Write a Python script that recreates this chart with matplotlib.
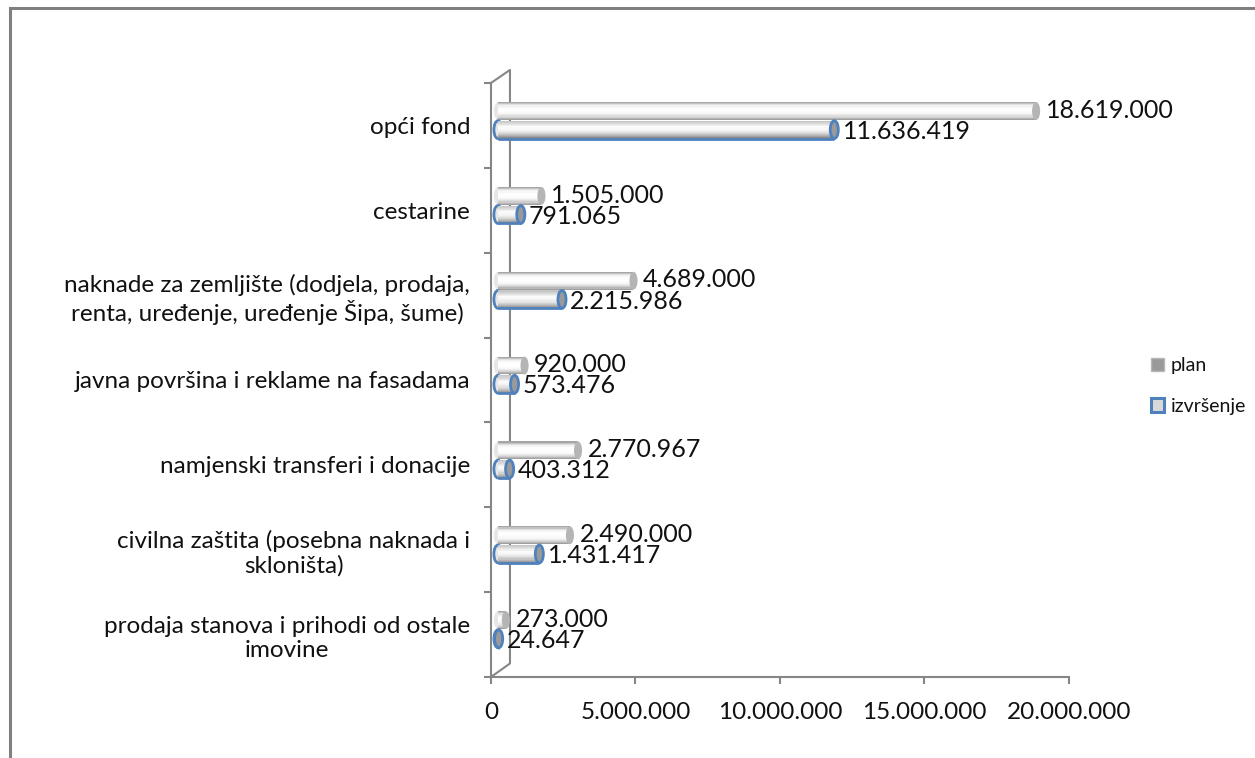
import matplotlib.pyplot as plt
import numpy as np
from matplotlib.colors import LinearSegmentedColormap
from matplotlib.patches import Rectangle, Ellipse, Patch
from matplotlib.transforms import ScaledTranslation

plt.rcParams['font.family'] = ['Lato', 'DejaVu Sans']

# categories top to bottom, as in the chart
categories = [
    "opći fond",
    "cestarine",
    "naknade za zemljište (dodjela, prodaja,\nrenta, uređenje, uređenje Šipa, šume)",
    "javna površina i reklame na fasadama",
    "namjenski transferi i donacije",
    "civilna zaštita (posebna naknada i\nskloništa)",
    "prodaja stanova i prihodi od ostale\nimovine",
]
plan = [18619000, 1505000, 4689000, 920000, 2770967, 2490000, 273000]
izvrsenje = [11636419, 791065, 2215986, 573476, 403312, 1431417, 24647]
xticks = [0, 5000000, 10000000, 15000000, 20000000]

AXIS_GRAY = "#868686"
TEXT = "#111111"
BLUE = "#4F81BD"
BAR_H = 0.21
CAP_W = 280000
STRIPS = 16

def fmt(v):
    return f"{v:,}".replace(",", ".")

plan_cmap = LinearSegmentedColormap.from_list(
    "plan", ["#a0a0a0", "#d8d8d8", "#f7f7f7", "#ffffff", "#fdfdfd", "#eeeeee", "#a6a6a6"])
izv_cmap = LinearSegmentedColormap.from_list(
    "izv", ["#8c8c8c", "#bdbdbd", "#e0e0e0", "#f6f6f6", "#fbfbfb", "#dedede", "#c6c6c6"])

fig = plt.figure(figsize=(12.55, 7.58), dpi=100)
ax = fig.add_axes([0.3912, 0.1069, 0.4606, 0.7836])
# bars sit a little behind the front axis plane, so they are pushed right
depth = ax.transData + ScaledTranslation(7 / 100, 0, fig.dpi_scale_trans)

def cylinder(v, yc, cmap, edge, cap_fill, z):
    y0 = yc - BAR_H / 2
    ax.add_patch(Ellipse((0, yc), CAP_W, BAR_H, facecolor="#e6e6e6",
                         edgecolor=edge, lw=2, zorder=z, transform=depth))
    # body as thin strips bottom to top, shaded like a cylinder
    for k in range(STRIPS):
        ax.barh(y0 + k * BAR_H / STRIPS, v, height=BAR_H / STRIPS * 1.05, align="edge",
                color=cmap(k / (STRIPS - 1)), lw=0, zorder=z + 1, transform=depth)
    if edge != "none":
        ax.plot([0, v], [y0, y0], color=edge, lw=2, zorder=z + 2,
                solid_capstyle="butt", transform=depth)
    ax.add_patch(Ellipse((v, yc), CAP_W, BAR_H, facecolor=cap_fill,
                         edgecolor=edge, lw=2, zorder=z + 3, transform=depth))

n = len(categories)
ypos = np.arange(n)[::-1]

for i in range(n):
    y = ypos[i]
    cylinder(plan[i], y + 0.17, plan_cmap, "none", "#b5b5b5", 3)
    cylinder(izvrsenje[i], y - 0.05, izv_cmap, BLUE, "#9a9a9a", 8)
    ax.annotate(fmt(plan[i]), xy=(plan[i], y + 0.18), xytext=(12, 0),
                textcoords="offset points", va="center", fontsize=18,
                color=TEXT, zorder=20)
    ax.annotate(fmt(izvrsenje[i]), xy=(izvrsenje[i], y - 0.07), xytext=(11, 0),
                textcoords="offset points", va="center", fontsize=18,
                color=TEXT, zorder=20)

ax.set_xlim(0, 20000000)
ax.set_ylim(-0.5, n - 0.5)
ax.set_xticks(xticks)
ax.set_xticklabels([fmt(t) for t in xticks], fontsize=17.5, color=TEXT)
ax.set_yticks(np.arange(-0.5, n, 1.0))
ax.set_yticklabels([])
ax.set_yticks(ypos, minor=True)
ax.set_yticklabels(categories, minor=True, fontsize=17.5, color=TEXT,
                   linespacing=1.2)
for lbl in ax.get_yticklabels(minor=True):
    lbl.set_multialignment("center")
ax.tick_params(axis="y", which="minor", length=0, pad=15)
ax.tick_params(axis="y", which="major", length=5, width=1.5, color=AXIS_GRAY)
ax.tick_params(axis="x", length=5, width=1.5, color=AXIS_GRAY, pad=13)

for side in ["top", "right"]:
    ax.spines[side].set_visible(False)
for side in ["left", "bottom"]:
    ax.spines[side].set_color(AXIS_GRAY)
    ax.spines[side].set_linewidth(1.5)

# 3D back wall edge, behind the bars
dx, dy = 0.0329, 0.0227
ax.plot([0, dx, dx, 0], [0, dy, 1 + 0.022, 1], transform=ax.transAxes,
        color=AXIS_GRAY, lw=1.5, clip_on=False, zorder=0.5)

handles = [Patch(facecolor="#999999", edgecolor="#b8b8b8", lw=1),
           Patch(facecolor="#d9d9d9", edgecolor=BLUE, lw=2.2)]
fig.legend(handles, ["plan", "izvršenje"], loc="center left",
           bbox_to_anchor=(1133 / 1255, 1 - 386 / 758), frameon=False,
           fontsize=14, labelcolor=TEXT, handlelength=0.7, handleheight=0.7,
           handletextpad=0.35, labelspacing=1.2)

fig.patches.append(Rectangle((10 / 1255, -0.1), 1.2, 1 - 8 / 758 + 0.1,
                             transform=fig.transFigure, fill=False,
                             edgecolor="#808080", lw=2.2))

fig.savefig("out.png", dpi=100)
